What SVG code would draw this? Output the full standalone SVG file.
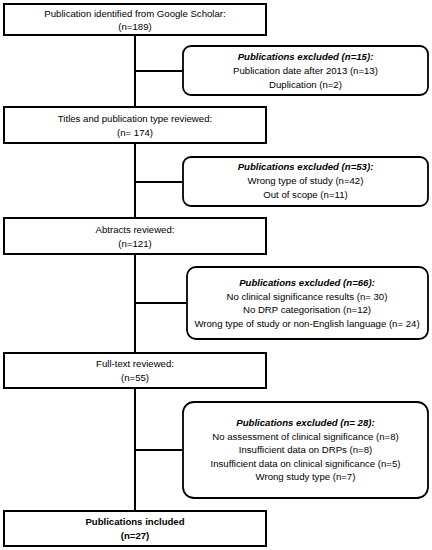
<svg xmlns="http://www.w3.org/2000/svg" width="432" height="550" viewBox="0 0 432 550">
<style>
.box{fill:#fff;stroke:#000;stroke-width:2}
.ex{fill:#fff;stroke:#000;stroke-width:1.8}
.ln{stroke:#000;stroke-width:2;fill:none}
text{font-family:"Liberation Sans",Arial,sans-serif;font-size:9.6px;fill:#000;text-anchor:middle}
.h{font-weight:bold;font-style:italic}
.b{font-weight:bold}
</style>
<rect width="432" height="550" fill="#fff"/>
<g id="connectors">
<line class="ln" x1="135" y1="35" x2="135" y2="511"/>
<line class="ln" x1="135" y1="71" x2="183" y2="71"/>
<line class="ln" x1="135" y1="182" x2="183" y2="182"/>
<line class="ln" x1="135" y1="303" x2="187" y2="303"/>
<line class="ln" x1="135" y1="450" x2="183" y2="450"/>
</g>
<g id="n1">
<rect class="box" x="4" y="4" width="262" height="31"/>
<text x="135" y="17">Publication identified from Google Scholar:</text>
<text x="135" y="30">(n=189)</text>
</g>
<g id="e1">
<rect class="ex" x="183" y="46" width="245" height="49" rx="8"/>
<text class="h" x="305.5" y="60">Publications excluded (n=15):</text>
<text x="305.5" y="74">Publication date after 2013 (n=13)</text>
<text x="305.5" y="88">Duplication (n=2)</text>
</g>
<g id="n2">
<rect class="box" x="4" y="107" width="262" height="36"/>
<text x="135" y="122">Titles and publication type reviewed:</text>
<text x="135" y="136">(n= 174)</text>
</g>
<g id="e2">
<rect class="ex" x="183" y="157" width="245" height="49" rx="8"/>
<text class="h" x="305.5" y="170">Publications excluded (n=53):</text>
<text x="305.5" y="184">Wrong type of study (n=42)</text>
<text x="305.5" y="198">Out of scope (n=11)</text>
</g>
<g id="n3">
<rect class="box" x="4" y="218" width="262" height="36"/>
<text x="135" y="233">Abtracts reviewed:</text>
<text x="135" y="247">(n=121)</text>
</g>
<g id="e3">
<rect class="ex" x="187" y="267" width="241" height="72" rx="9"/>
<text class="h" x="307" y="286">Publications excluded (n=66):</text>
<text x="307" y="299.5">No clinical significance results (n= 30)</text>
<text x="307" y="313">No DRP categorisation (n=12)</text>
<text x="307" y="326.5">Wrong type of study or non-English language (n= 24)</text>
</g>
<g id="n4">
<rect class="box" x="4" y="353" width="262" height="35"/>
<text x="135" y="367">Full-text reviewed:</text>
<text x="135" y="381">(n=55)</text>
</g>
<g id="e4">
<rect class="ex" x="183" y="402" width="245" height="96" rx="11"/>
<text class="h" x="305.5" y="426">Publications excluded (n= 28):</text>
<text x="305.5" y="439.5">No assessment of clinical significance (n=8)</text>
<text x="305.5" y="453">Insufficient data on DRPs (n=8)</text>
<text x="305.5" y="466.5">Insufficient data on clinical significance (n=5)</text>
<text x="305.5" y="480">Wrong study type (n=7)</text>
</g>
<g id="n5">
<rect class="box" x="4" y="511" width="262" height="35"/>
<text class="b" x="135" y="524.5">Publications included</text>
<text class="b" x="135" y="539">(n=27)</text>
</g>
</svg>
